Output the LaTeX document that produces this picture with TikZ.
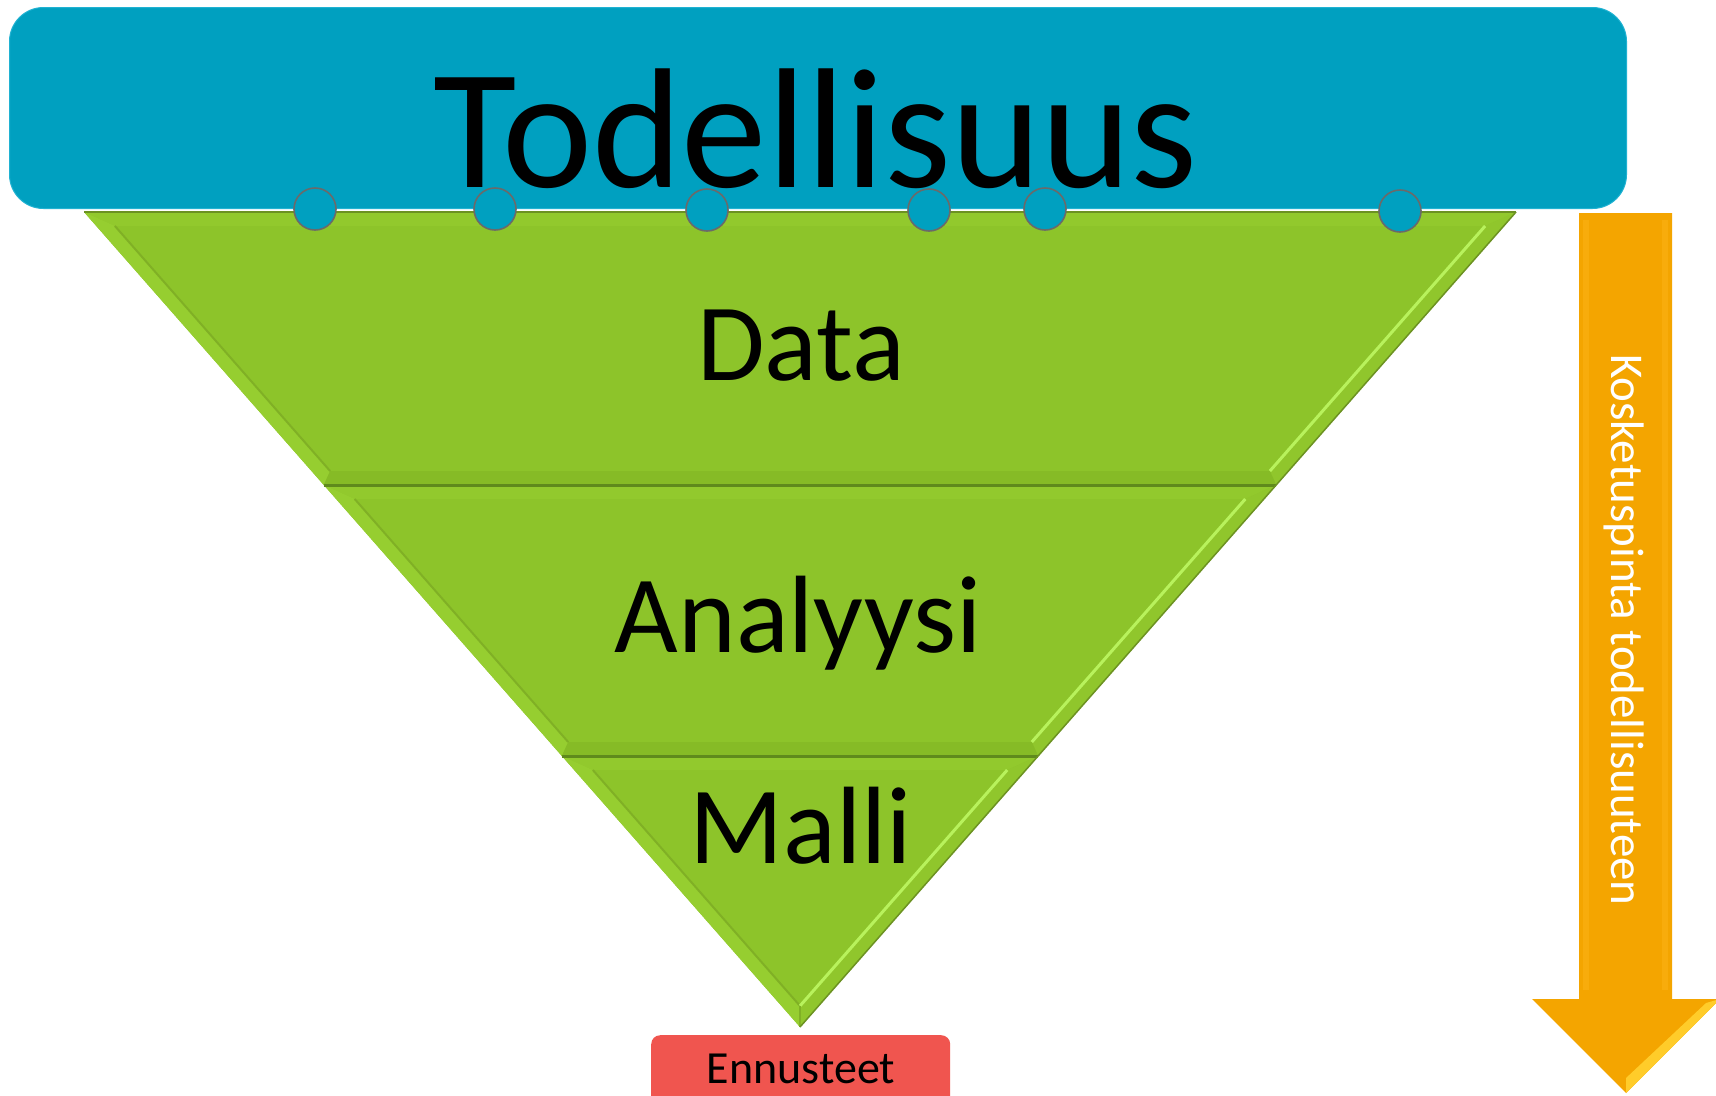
\documentclass[tikz,border=0pt]{standalone}
\usepackage{fontspec}
\setmainfont{Carlito}
\definecolor{tblue}{HTML}{00A0C0}
\definecolor{tblueedge}{HTML}{20B2D2}
\definecolor{dotgray}{HTML}{6A6A6A}
\definecolor{tgreen}{HTML}{8DC42A}
\definecolor{gleft}{HTML}{96CE30}
\definecolor{gright}{HTML}{90C62C}
\definecolor{gtop}{HTML}{92C92D}
\definecolor{gbot}{HTML}{86BB26}
\definecolor{gdark}{HTML}{5F8A1C}
\definecolor{gshade}{HTML}{80B025}
\definecolor{glight}{HTML}{B8F25C}
\definecolor{golive}{HTML}{6C9222}
\definecolor{torange}{HTML}{F4A500}
\definecolor{tolight}{HTML}{F8AC0C}
\definecolor{toyellow}{HTML}{FFCC2A}
\definecolor{ered}{HTML}{F0554F}
\tikzset{
  lbl/.style={inner sep=0pt, anchor=base, text=black, font=\fontsize{110}{110}\selectfont},
  dotc/.style={circle, draw=dotgray, line width=1.6pt, fill=tblue, minimum size=42pt, inner sep=0pt}
}
\begin{document}
\begin{tikzpicture}[x=1pt,y=-1pt]
\useasboundingbox (0,0) rectangle (1716,1095);
\clip (0,0) rectangle (1716,1095);
\fill[white] (0,0) rectangle (1716,1095);

% top box
\node[fill=tblue, draw=tblueedge, line width=1pt, rounded corners=34pt, minimum width=1617pt, minimum height=201pt, anchor=north west, inner sep=0pt] (reality) at (9,7) {};
\node[lbl, font=\fontsize{171}{171}\selectfont] (todell) at (816,187) {Todellisuus};

% funnel coordinates
\coordinate (TL) at (84,212);
\coordinate (TR) at (1516,212);
\coordinate (L1) at (323.8,485);
\coordinate (R1) at (1276.2,485);
\coordinate (L2) at (561.9,756);
\coordinate (R2) at (1038.1,756);
\coordinate (AP) at (800,1027);

% segment 1
\fill[tgreen] (TL) -- (TR) -- (R1) -- (L1) -- cycle;
\fill[gtop] (TL) -- (TR) -- (1485.1,226) -- (114.9,226) -- cycle;
\fill[gleft] (TL) -- (L1) -- (330.1,471) -- (114.9,226) -- cycle;
\fill[gright] (TR) -- (R1) -- (1269.9,471) -- (1485.1,226) -- cycle;
\fill[gbot] (L1) -- (R1) -- (1269.9,471) -- (330.1,471) -- cycle;
\draw[gshade, line width=2pt] (114.9,226) -- (330.1,471);
\draw[glight, line width=3pt] (1485.1,226) -- (1269.9,471);

% segment 2
\fill[tgreen] (L1) -- (R1) -- (R2) -- (L2) -- cycle;
\fill[gtop] (L1) -- (R1) -- (1245.3,499) -- (354.7,499) -- cycle;
\fill[gleft] (L1) -- (L2) -- (568.2,742) -- (354.7,499) -- cycle;
\fill[gright] (R1) -- (R2) -- (1031.8,742) -- (1245.3,499) -- cycle;
\fill[gbot] (L2) -- (R2) -- (1031.8,742) -- (568.2,742) -- cycle;
\draw[gshade, line width=2pt] (354.7,499) -- (568.2,742);
\draw[glight, line width=3pt] (1245.3,499) -- (1031.8,742);

% segment 3
\fill[tgreen] (L2) -- (R2) -- (AP) -- cycle;
\fill[gtop] (L2) -- (R2) -- (1007.2,770) -- (592.8,770) -- cycle;
\fill[gleft] (L2) -- (AP) -- (800,1005.9) -- (592.8,770) -- cycle;
\fill[gright] (R2) -- (AP) -- (800,1005.9) -- (1007.2,770) -- cycle;
\draw[gshade, line width=2pt] (592.8,770) -- (800,1005.9);
\draw[glight, line width=3pt] (1007.2,770) -- (800,1005.9);
\draw[gshade, line width=1.5pt] (800,1005.9) -- (AP);

% division lines and outer edges
\draw[gdark, line width=3pt] (L1) -- (R1);
\draw[gdark, line width=3pt] (L2) -- (R2);
\draw[golive, line width=1.5pt] (TR) -- (AP);
\draw[golive, line width=1.2pt] (TL) -- (TR);

% circles
\node[dotc] (c1) at (315,209) {};
\node[dotc] (c2) at (495,209) {};
\node[dotc] (c3) at (707,210) {};
\node[dotc] (c4) at (929,210) {};
\node[dotc] (c5) at (1045,209) {};
\node[dotc] (c6) at (1400,211) {};

% labels
\node[lbl] (data) at (801,380) {Data};
\node[lbl] (analyysi) at (798,652) {Analyysi};
\node[lbl] (malli) at (801,863) {Malli};

% orange arrow
\fill[torange] (1579,213) -- (1672,213) -- (1672,999) -- (1720,999) -- (1626,1093) -- (1532,999) -- (1579,999) -- cycle;
\draw[tolight, line width=6pt] (1586,220) -- (1586,990);
\draw[tolight, line width=6pt] (1665,220) -- (1665,990);
\fill[toyellow] (1720,999) -- (1626,1093) -- (1626,1078) -- (1706,1003) -- cycle;
\node[inner sep=0pt, anchor=base, rotate=-90, text=white, font=\fontsize{47}{47}\selectfont] (kosket) at (1611,630) {Kosketuspinta todellisuuteen};

% red box
\node[fill=ered, rounded corners=9pt, minimum width=299pt, minimum height=90pt, anchor=north west, inner sep=0pt] (ennbox) at (651,1035) {};
\node[inner sep=0pt, anchor=base, text=black, font=\fontsize{46}{46}\selectfont] (ennusteet) at (801,1083) {Ennusteet};
\end{tikzpicture}
\end{document}
